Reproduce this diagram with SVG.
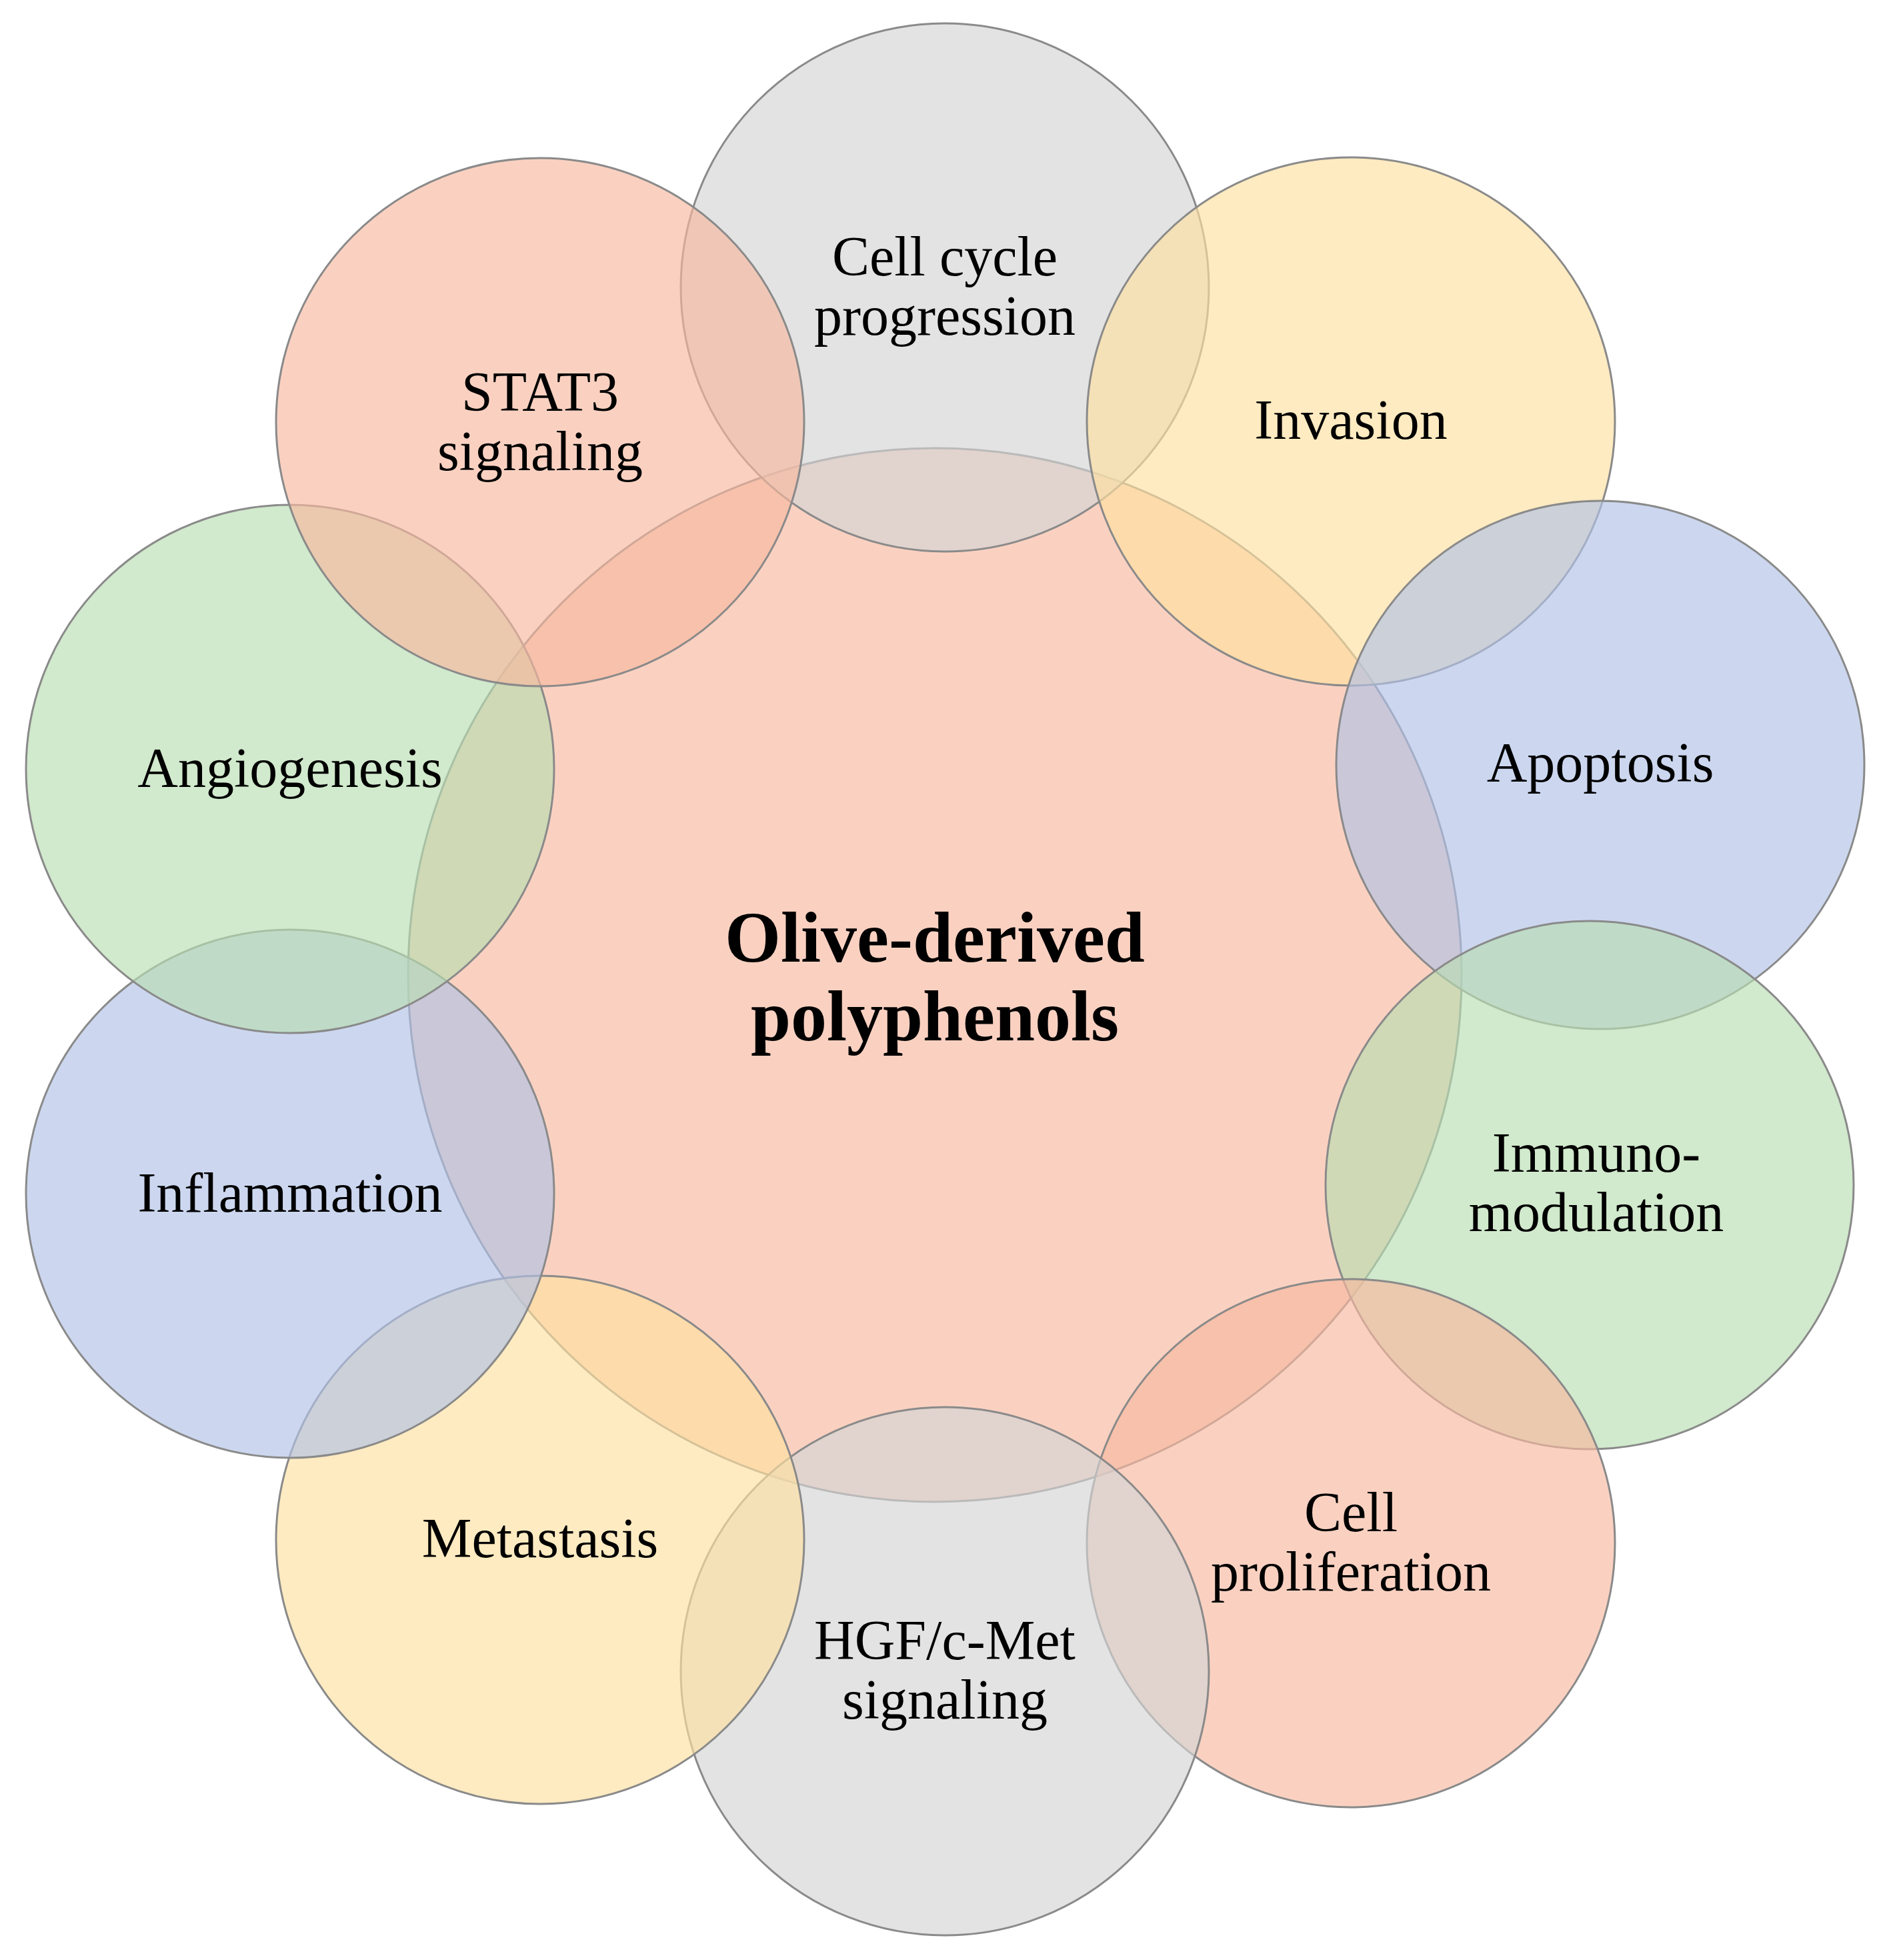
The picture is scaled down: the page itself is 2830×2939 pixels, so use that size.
<svg xmlns="http://www.w3.org/2000/svg" width="2830" height="2939" viewBox="0 0 2830 2939">
<style>
.c{stroke:#8a8a8a;stroke-width:3;fill-opacity:0.65}
.p{fill:#F8B9A0}.g{fill:#D4D4D4}.y{fill:#FFE0A0}.b{fill:#B0C2E6}.n{fill:#B8DDB0}
text{font-family:"Liberation Serif","Times New Roman",serif;font-size:84px;fill:#000;text-anchor:middle}
.t{font-weight:bold;font-size:108px}
</style>
<rect width="2830" height="2939" fill="#fff"/>
<g id="center"><circle class="c p" cx="1402" cy="1462" r="790"/>
<text class="t" x="1402" y="1442">Olive-derived</text><text class="t" x="1402" y="1560">polyphenols</text></g>
<g id="cellcycle"><circle class="c g" cx="1417" cy="431" r="396"/><text x="1417" y="413">Cell cycle</text><text x="1417" y="502">progression</text></g>
<g id="invasion"><circle class="c y" cx="2026" cy="632" r="396"/><text x="2026" y="658">Invasion</text></g>
<g id="apoptosis"><circle class="c b" cx="2400" cy="1147" r="396"/><text x="2400" y="1172">Apoptosis</text></g>
<g id="immuno"><circle class="c n" cx="2384" cy="1777" r="396"/><text x="2394" y="1757">Immuno-</text><text x="2394" y="1846">modulation</text></g>
<g id="prolif"><circle class="c p" cx="2026" cy="2314" r="396"/><text x="2026" y="2296">Cell</text><text x="2026" y="2385">proliferation</text></g>
<g id="hgf"><circle class="c g" cx="1417" cy="2506" r="396"/><text x="1417" y="2488">HGF/c-Met</text><text x="1417" y="2577">signaling</text></g>
<g id="metastasis"><circle class="c y" cx="810" cy="2309" r="396"/><text x="810" y="2335">Metastasis</text></g>
<g id="inflammation"><circle class="c b" cx="435" cy="1790" r="396"/><text x="435" y="1817">Inflammation</text></g>
<g id="angiogenesis"><circle class="c n" cx="435" cy="1153" r="396"/><text x="435" y="1180">Angiogenesis</text></g>
<g id="stat3"><circle class="c p" cx="810" cy="633" r="396"/><text x="810" y="616">STAT3</text><text x="810" y="705">signaling</text></g>
<g id="connectors"/>
</svg>
